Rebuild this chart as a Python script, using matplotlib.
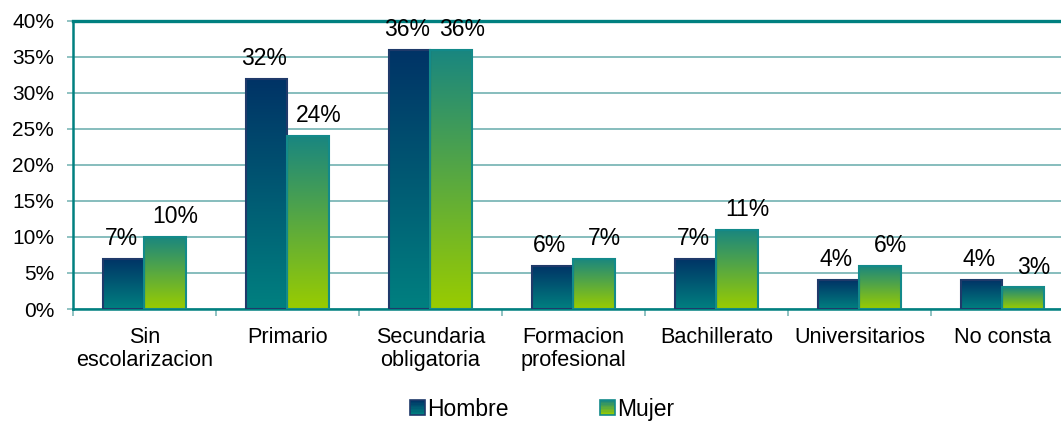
import numpy as np
import matplotlib
matplotlib.use('Agg')
import matplotlib.pyplot as plt
from matplotlib.colors import LinearSegmentedColormap
from matplotlib.patches import Rectangle
from matplotlib.legend_handler import HandlerBase

plt.rcParams['font.family'] = ['Liberation Sans', 'DejaVu Sans']

categories = ['Sin\nescolarizacion', 'Primario', 'Secundaria\nobligatoria',
              'Formacion\nprofesional', 'Bachillerato', 'Universitarios', 'No consta']
hombre = [7, 32, 36, 6, 7, 4, 4]
mujer = [10, 24, 36, 7, 11, 6, 3]
series_names = ['Hombre', 'Mujer']

# gradient colours (top -> bottom) and edge colours
grad_h = ('#003366', '#008080')
grad_m = ('#198680', '#99CC00')
edge_h = '#1F3A6A'
edge_m = '#138A8A'
teal = '#008080'
grid_c = '#7DB8B8'


def gradient_bar(ax, rect, top, bottom):
    cmap = LinearSegmentedColormap.from_list('g', [bottom, top])
    x0 = rect.get_x()
    x1 = x0 + rect.get_width()
    h = rect.get_height()
    g = np.linspace(1, 0, 128).reshape(-1, 1)
    im = ax.imshow(g, extent=[x0, x1, 0, h], aspect='auto', cmap=cmap,
                   vmin=0, vmax=1, zorder=2, interpolation='bicubic', origin='upper')
    im.set_clip_path(rect)


class GradHandler(HandlerBase):
    def __init__(self, top, bottom, edge):
        super().__init__()
        self.top, self.bottom, self.edge = top, bottom, edge

    def create_artists(self, legend, orig, xd, yd, width, height, fontsize, trans):
        cmap = LinearSegmentedColormap.from_list('g', [self.bottom, self.top])
        n = 10
        arts = []
        side = min(width, height * 1.0)
        x0 = xd * -1 + (width - side) / 2
        y0 = -yd + (height - side) / 2
        for k in range(n):
            c = cmap(1 - (k + 0.5) / n)
            r = Rectangle((x0, y0 + side * (n - k - 1) / n), side, side / n,
                          facecolor=c, edgecolor='none', transform=trans)
            arts.append(r)
        arts.append(Rectangle((x0, y0), side, side, facecolor='none',
                              edgecolor=self.edge, lw=1.2, transform=trans))
        return arts


fig = plt.figure(figsize=(10.61, 4.23), dpi=100)
ax = fig.add_axes([0.0688, 0.2695, 0.9434, 0.681])

x = np.arange(len(categories))
w = 0.29
bars_h = ax.bar(x - w / 2, hombre, w, facecolor='none', edgecolor=edge_h, lw=1.5, zorder=3)
bars_m = ax.bar(x + w / 2, mujer, w, facecolor='none', edgecolor=edge_m, lw=1.5, zorder=3)

for b in bars_h:
    gradient_bar(ax, b, *grad_h)
for b in bars_m:
    gradient_bar(ax, b, *grad_m)

for xi, v in zip(x, hombre):
    ax.annotate('{}%'.format(v), (xi - w / 2, v), xytext=(-2, 10), textcoords='offset points',
                ha='center', va='baseline', fontsize=16.5, color='black')
for xi, v in zip(x, mujer):
    ax.annotate('{}%'.format(v), (xi + w / 2, v), xytext=(7.5, 10), textcoords='offset points',
                ha='center', va='baseline', fontsize=16.5, color='black')

ax.set_xlim(-0.5, len(categories) - 0.5)
ax.set_ylim(0, 40)
ax.set_yticks(range(0, 41, 5))
ax.set_yticklabels(['{}%'.format(v) for v in range(0, 41, 5)], fontsize=15)

ax.set_xticks(x)
ax.set_xticklabels(categories, fontsize=15.6, linespacing=1.1)
ax.set_xticks(np.arange(-0.5, len(categories), 1), minor=True)
ax.tick_params(axis='x', which='major', length=0, pad=13)
ax.tick_params(axis='x', which='minor', length=5, color=grid_c, width=1.2)
ax.tick_params(axis='y', length=4.5, color=grid_c, width=1.2, pad=9)

ax.yaxis.grid(True, color=grid_c, lw=1.3)
ax.set_axisbelow(True)

for s in ['left', 'bottom']:
    ax.spines[s].set_color(teal)
    ax.spines[s].set_linewidth(1.8)
ax.spines['top'].set_color(teal)
ax.spines['top'].set_linewidth(2.4)
ax.spines['right'].set_visible(False)

h1 = Rectangle((0, 0), 1, 1)
h2 = Rectangle((0, 0), 1, 1)
fig.legend([h1, h2], series_names, loc='center', bbox_to_anchor=(0.511, 0.033),
           ncol=2, frameon=False, fontsize=16.5, handlelength=0.65, handleheight=0.65,
           handletextpad=0.1, columnspacing=4.0,
           handler_map={h1: GradHandler(grad_h[0], grad_h[1], edge_h),
                        h2: GradHandler(grad_m[0], grad_m[1], edge_m)})

fig.savefig('out.png', dpi=100)
